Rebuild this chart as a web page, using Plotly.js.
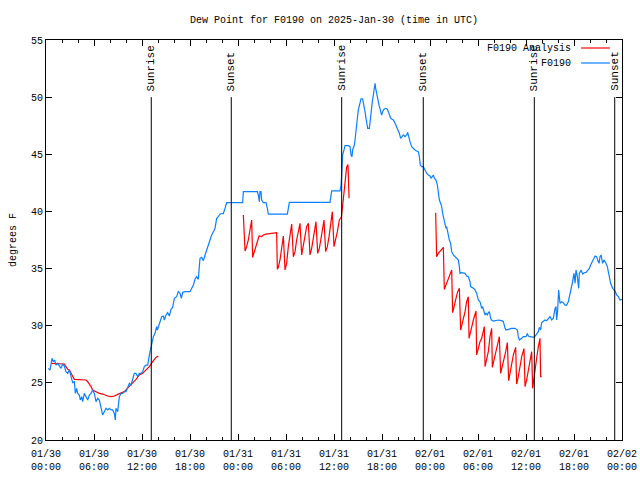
<!DOCTYPE html>
<html>
<head>
<meta charset="utf-8">
<script src="https://cdn.plot.ly/plotly-3.0.1.min.js"></script>
<style>html,body{margin:0;padding:0;background:#fff}#chart{width:640px;height:480px}</style>
</head>
<body>
<div id="chart"></div>
<script>
// Hours since 2025-01-30 00:00 UTC
const obsHours = [0.29,0.5,0.75,0.92,1.08,1.25,1.46,1.67,1.88,2.08,2.29,2.5,2.71,2.92,3.13,3.33,3.54,3.67,3.83,3.96,4.17,4.29,4.46,4.58,4.79,5.0,5.21,5.42,5.63,5.83,6.04,6.25,6.46,6.67,6.79,6.96,7.08,7.29,7.5,7.71,7.92,8.13,8.33,8.54,8.67,8.75,8.96,9.17,9.38,9.58,9.79,10.0,10.21,10.42,10.63,10.83,11.04,11.25,11.46,11.67,11.88,12.08,12.29,12.5,12.71,12.92,13.08,13.25,13.42,13.63,13.83,13.92,14.04,14.25,14.46,14.67,14.79,15.0,15.21,15.42,15.63,15.83,16.04,16.33,16.54,16.75,16.92,17.08,17.38,18.0,18.21,18.42,18.63,18.83,19.04,19.17,19.25,19.46,19.67,19.88,20.08,20.29,20.5,20.71,20.92,21.13,21.33,21.54,21.75,22.17,22.38,22.58,24.58,24.67,26.42,26.54,26.67,26.75,26.88,26.96,27.17,27.5,27.67,27.79,30.17,30.29,30.42,35.5,35.71,36.75,36.88,36.96,37.08,37.25,37.38,37.79,38.0,38.13,38.25,38.33,38.54,38.63,38.75,38.92,39.04,39.25,39.38,39.58,39.75,39.88,40.0,40.08,40.21,40.42,40.5,40.63,40.79,40.92,41.04,41.13,41.21,41.33,41.54,41.67,41.75,41.88,41.96,42.08,42.25,42.46,42.67,42.79,42.92,43.08,43.21,43.42,43.63,43.83,44.04,44.17,44.33,44.46,44.67,44.88,45.08,45.21,45.33,45.5,45.71,45.92,46.13,46.33,46.54,46.67,46.79,46.96,47.17,47.38,47.58,47.79,48.0,48.13,48.42,48.54,48.75,48.92,49.04,49.17,49.33,49.46,49.58,49.75,49.88,50.0,50.08,50.17,50.29,50.42,50.58,50.71,50.92,51.13,51.33,51.54,51.67,51.75,51.96,52.38,52.58,52.79,53.0,53.08,53.42,53.63,53.83,53.92,54.04,54.25,54.38,54.46,54.58,54.75,54.88,55.0,55.17,55.29,55.42,55.58,55.71,55.92,56.54,56.96,57.17,57.38,57.5,57.79,58.21,58.63,58.92,59.04,59.17,59.46,59.67,60.0,60.17,60.29,60.5,61.04,61.25,61.33,61.54,61.67,61.83,61.96,62.17,62.38,62.58,62.79,63.0,63.21,63.42,63.63,63.75,63.83,63.96,64.08,64.17,64.25,64.46,64.67,64.88,65.08,65.29,65.5,65.63,65.83,65.92,66.0,66.13,66.25,66.42,66.58,66.67,66.88,67.08,67.29,67.5,67.71,67.92,68.08,68.33,68.5,68.63,68.83,68.96,69.13,69.25,69.38,69.58,69.75,70.0,70.17,70.29,70.42,70.58,70.83,71.0,71.17,71.33,71.54,71.75,72.0];
const obsDew = [26.27,26.12,27.15,26.85,27.0,26.56,26.71,26.42,26.27,26.65,26.47,25.98,25.83,26.13,25.4,25.02,25.1,24.08,24.52,24.08,23.94,23.5,23.79,23.35,24.08,23.85,23.5,23.94,24.08,24.38,24.08,23.35,23.65,23.5,23.06,22.33,22.19,22.48,22.77,22.63,22.77,22.63,22.63,22.33,21.75,22.77,22.48,23.79,24.08,24.08,24.23,24.23,24.67,24.96,24.81,25.25,25.83,25.83,25.54,25.83,25.83,25.98,26.42,26.56,26.56,27.44,27.88,28.31,29.04,29.33,29.92,29.63,29.92,30.35,30.79,30.85,30.5,30.94,31.14,30.85,31.43,31.6,32.4,32.54,32.98,32.83,32.4,32.92,32.98,32.98,33.27,33.56,34.06,34.29,34.06,34.88,35.9,35.98,35.69,36.19,36.63,37.06,37.65,37.94,38.23,38.52,39.4,39.54,39.78,39.83,40.27,40.77,40.77,41.73,41.73,41.44,40.85,41.73,41.73,41.0,40.77,40.77,40.27,39.77,39.77,40.27,40.8,40.8,41.79,41.79,42.31,43.2,44.94,45.38,45.76,45.76,45.67,44.94,44.79,45.38,45.81,46.25,47.27,48.15,48.88,49.46,49.84,49.84,49.32,48.73,48.15,47.57,47.27,47.27,47.86,48.73,49.61,50.19,50.63,51.21,50.77,50.19,49.61,49.17,49.02,48.59,48.44,48.73,48.94,49.02,48.94,48.73,48.38,48.15,48.09,48.0,47.71,47.42,47.13,46.84,46.4,46.54,46.69,46.54,46.69,46.92,46.54,46.11,45.67,45.47,45.38,45.29,45.23,44.79,44.06,43.92,43.92,43.63,43.34,43.19,43.1,42.9,43.19,42.9,42.75,42.31,41.73,41.0,40.71,40.42,39.83,39.4,38.96,38.52,38.67,38.38,37.79,37.5,37.21,36.48,36.19,36.04,35.9,35.75,35.17,34.58,34.64,34.58,34.35,34.29,33.85,33.42,33.27,33.13,32.83,32.54,32.25,32.1,31.67,31.52,31.67,31.23,30.94,31.08,30.94,31.14,31.23,30.65,30.5,30.41,30.5,30.44,30.35,29.77,29.62,29.68,29.77,29.77,29.62,29.04,28.75,28.9,29.04,29.04,29.33,29.1,29.04,28.98,29.19,29.33,29.48,29.86,29.63,30.27,30.35,30.5,30.44,30.65,30.79,30.5,30.65,31.52,31.67,30.5,31.38,33.13,32.69,31.96,32.1,32.02,31.81,31.81,32.1,32.69,33.27,33.85,34.29,34.58,33.71,34.88,34.29,33.27,34.58,34.88,34.52,34.64,34.67,34.88,35.02,35.31,35.6,35.9,36.1,36.04,35.75,35.46,36.04,36.19,35.46,35.75,35.46,35.17,34.73,34.29,33.71,33.27,33.13,32.98,32.69,32.54,32.25,32.3];

// Analysis series (null = gap)
const anaHours = [0.63,1.58,1.67,2.29,2.5,2.71,2.92,3.13,3.33,3.54,5.0,5.21,5.63,5.83,6.25,6.67,7.08,7.29,7.71,8.13,8.54,8.96,9.38,9.79,10.0,10.42,10.83,11.25,11.67,12.08,12.5,12.92,13.33,13.75,14.04,
  14.1,
  24.67,24.88,25.08,25.29,25.5,25.71,25.83,26.13,26.33,26.63,26.96,27.17,27.5,28.0,28.83,28.92,29.04,29.25,29.46,29.67,29.88,30.08,30.29,30.5,30.71,30.92,31.13,31.33,31.54,31.75,31.96,32.17,32.38,32.58,32.79,33.0,33.21,33.42,33.63,33.75,33.96,34.17,34.38,34.58,34.75,34.96,35.17,35.38,35.58,35.79,36.0,36.21,36.42,36.67,36.92,37.08,37.25,37.42,37.58,37.75,37.88,
  37.9,
  48.71,48.75,48.83,49.04,49.25,49.46,49.67,49.79,50.0,50.29,50.5,50.71,50.83,51.04,51.25,51.46,51.67,51.83,52.17,52.38,52.58,52.79,52.88,53.21,53.42,53.75,53.83,54.04,54.25,54.46,54.79,54.88,55.08,55.29,55.5,55.71,55.79,56.0,56.25,56.46,56.67,56.83,57.04,57.25,57.46,57.67,57.83,58.0,58.21,58.42,58.71,58.83,59.04,59.25,59.46,59.75,59.88,60.08,60.29,60.5,60.71,60.83,61.13,61.33,61.54,61.75,61.83,61.96];
const anaDew = [26.71,26.71,26.65,26.65,26.42,26.18,26.13,25.83,25.69,25.31,25.25,25.1,24.67,24.38,24.23,24.08,24.02,23.94,23.85,23.79,23.85,23.99,24.08,24.23,24.38,24.67,25.02,25.31,25.69,25.83,26.13,26.42,26.85,27.23,27.35,
  null,
  39.69,36.54,36.92,37.5,38.38,39.25,35.98,36.63,37.06,37.85,37.79,37.94,38.02,38.08,38.14,34.93,35.11,35.75,36.92,37.85,34.88,35.46,36.92,38.08,38.9,36.04,36.48,37.5,38.23,38.96,36.19,36.92,37.94,38.67,38.96,36.19,36.77,37.65,38.38,39.1,36.33,36.77,37.65,38.38,39.25,36.48,36.92,37.79,38.96,39.98,36.92,37.5,38.23,39.25,39.5,40.5,41.6,42.8,43.9,44.1,41.15,
  null,
  39.89,37.94,36.04,36.33,36.48,36.68,36.86,33.18,33.56,34.15,34.58,34.87,31.14,31.67,32.4,32.98,33.27,29.62,30.5,31.23,32.1,32.54,28.9,29.92,30.5,31.29,27.44,28.02,28.6,28.9,29.92,26.41,27.0,27.73,29.04,29.77,26.36,27.0,27.73,28.31,29.04,25.83,26.42,27.15,27.73,28.52,25.19,25.83,26.71,27.44,28.11,24.9,25.54,26.42,27.29,28.0,24.67,25.25,26.13,27.0,27.73,24.52,26.42,27.15,28.17,28.9,25.54,25.54];

const sunriseHours = [13.16, 36.96, 61.04];
const sunsetHours = [23.16, 47.16, 71.09];
const markerTop = 50;

const xTickVals = [0,6,12,18,24,30,36,42,48,54,60,66,72];
const xTickText = ['01/30<br>00:00','01/30<br>06:00','01/30<br>12:00','01/30<br>18:00','01/31<br>00:00','01/31<br>06:00','01/31<br>12:00','01/31<br>18:00','02/01<br>00:00','02/01<br>06:00','02/01<br>12:00','02/01<br>18:00','02/02<br>00:00'];
const yTickVals = [20,25,30,35,40,45,50,55];

const seriesNames = ['F0190 Analysis', 'F0190'];
const seriesColors = ['#ff0000', '#0a80ff'];

const FONT = 'Liberation Mono, DejaVu Sans Mono, monospace';
const FS = 10;

const traces = [
  {x: anaHours, y: anaDew, type: 'scatter', mode: 'lines', name: seriesNames[0],
   line: {color: seriesColors[0], width: 1.2}, connectgaps: false, showlegend: false},
  {x: obsHours, y: obsDew, type: 'scatter', mode: 'lines', name: seriesNames[1],
   line: {color: seriesColors[1], width: 1.2}, showlegend: false}
];

const shapes = [];
const annotations = [];
function addEvent(h, label) {
  shapes.push({type: 'line', xref: 'x', yref: 'y', x0: h, x1: h, y0: 20, y1: markerTop,
               line: {color: '#000', width: 1}});
  annotations.push({xref: 'x', yref: 'y', x: h, y: markerTop + 0.35, text: label,
                    textangle: -90, showarrow: false, xanchor: 'center', yanchor: 'bottom',
                    font: {family: FONT, size: 11, color: '#000'}});
}
sunriseHours.forEach(h => addEvent(h, 'Sunrise'));
sunsetHours.forEach(h => addEvent(h, 'Sunset'));

// gnuplot-style key (text then sample line) in the top-right corner
const keyY = [0.98, 0.9425];
seriesNames.forEach((n, i) => {
  annotations.push({xref: 'paper', yref: 'paper', x: 0.915, y: keyY[i], text: n,
                    showarrow: false, xanchor: 'right', yanchor: 'middle',
                    font: {family: FONT, size: FS, color: '#000'}});
  shapes.push({type: 'line', xref: 'paper', yref: 'paper', x0: 0.929, x1: 0.979,
               y0: keyY[i], y1: keyY[i], line: {color: seriesColors[i], width: 1.2}});
});

const layout = {
  width: 640, height: 480,
  margin: {l: 46, r: 18, t: 40, b: 40, pad: 0},
  paper_bgcolor: '#fff', plot_bgcolor: '#fff',
  font: {family: FONT, size: FS, color: '#000'},
  title: {text: 'Dew Point for F0190 on 2025-Jan-30 (time in UTC)', x: 0.5, xref: 'paper',
          y: 1 - 19/480, yref: 'container', yanchor: 'middle',
          font: {family: FONT, size: FS, color: '#000'}},
  xaxis: {range: [0, 72], tickmode: 'array', tickvals: xTickVals, ticktext: xTickText,
          ticks: 'inside', ticklen: 6, tickcolor: '#000', tickwidth: 1,
          showline: true, linecolor: '#000', linewidth: 1, mirror: 'ticks',
          showgrid: false, zeroline: false, ticklabelstandoff: 4,
          minor: {tickmode: 'linear', tick0: 0, dtick: 2, ticks: 'inside', ticklen: 3, tickcolor: '#000', showgrid: false},
          tickfont: {family: FONT, size: FS, color: '#000'}},
  yaxis: {range: [20, 55], tickmode: 'array', tickvals: yTickVals,
          ticks: 'inside', ticklen: 6, tickcolor: '#000', tickwidth: 1,
          showline: true, linecolor: '#000', linewidth: 1, mirror: 'ticks',
          showgrid: false, zeroline: false,
          title: {text: 'degrees F', standoff: 12, font: {family: FONT, size: FS, color: '#000'}},
          tickfont: {family: FONT, size: FS, color: '#000'}},
  shapes: shapes,
  annotations: annotations,
  showlegend: false
};

Plotly.newPlot('chart', traces, layout, {staticPlot: true, displayModeBar: false});
</script>
</body>
</html>
